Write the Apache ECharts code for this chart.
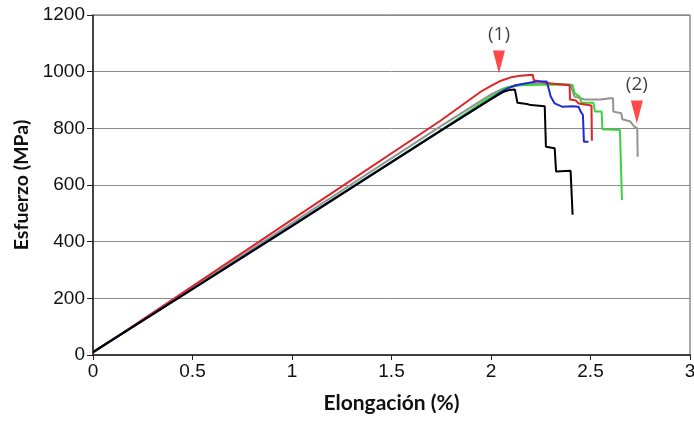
<!DOCTYPE html>
<html>
<head>
<meta charset="utf-8">
<script src="https://cdn.jsdelivr.net/npm/echarts@6/dist/echarts.min.js"></script>
<style>html,body{margin:0;padding:0;background:#fff}#c{width:694px;height:421px}</style>
</head>
<body>
<div id="c"></div>
<script>
const xTicks = [0, 0.5, 1, 1.5, 2, 2.5, 3];
const yTicks = [0, 200, 400, 600, 800, 1000, 1200];

const curvaGris = [[0,10],[1.0,466],[1.744,806],[2.0,920],[2.06,940],[2.12,952],[2.2,957],[2.3,957],[2.4,955],[2.41,930],[2.42,912],[2.47,902],[2.55,902],[2.6,906],[2.613,906],[2.615,859],[2.655,853],[2.66,832],[2.7,824],[2.72,806],[2.735,800],[2.737,700]];
const curvaVerde = [[0,10],[1.0,458],[1.744,792],[2.0,912],[2.08,945],[2.15,952],[2.3,955],[2.41,953],[2.42,924],[2.445,912],[2.455,890],[2.515,890],[2.522,859],[2.556,859],[2.56,797],[2.648,794],[2.658,547]];
const curvaRoja = [[0,8],[1.0,478],[1.744,826],[1.95,930],[2.0,950],[2.05,968],[2.1,980],[2.15,986],[2.21,989],[2.215,970],[2.3,958],[2.395,952],[2.397,902],[2.427,898],[2.44,888],[2.489,882],[2.505,880],[2.507,756]];
const curvaAzul = [[0,10],[1.0,457],[1.744,790],[2.0,904],[2.045,926],[2.08,940],[2.13,953],[2.2,962],[2.23,965],[2.28,965],[2.29,940],[2.3,912],[2.32,888],[2.36,876],[2.41,878],[2.44,876],[2.45,860],[2.462,847],[2.467,753],[2.49,753]];
const curvaNegra = [[0,10],[1.0,455],[1.744,790],[2.0,903],[2.06,928],[2.09,935],[2.12,937],[2.133,890],[2.18,886],[2.2,882],[2.27,878],[2.276,735],[2.32,730],[2.327,648],[2.40,650],[2.41,495]];

const marcas = [[2.04, 1034], [2.733, 858]];
const marcasTexto = ['(1)', '(2)'];

function linea(name, data, color) {
  return { name, type: 'line', data, symbol: 'none', showSymbol: false, animation: false,
    lineStyle: { color, width: 2 }, itemStyle: { color } };
}

const labelFont = '"Liberation Sans", Arial, sans-serif';
const chart = echarts.init(document.getElementById('c'), null, { renderer: 'canvas' });
chart.setOption({
  animation: false,
  backgroundColor: '#fff',
  grid: { left: 93, top: 15, right: 4, bottom: 66, containLabel: false, outerBoundsMode: 'none',
          show: true, borderColor: '#555', borderWidth: 1, backgroundColor: 'transparent' },
  xAxis: {
    type: 'value', min: 0, max: 3, interval: 0.5,
    name: 'Elongación (%)', nameLocation: 'middle', nameGap: 38,
    nameTextStyle: { fontFamily: 'Lato', fontWeight: 'bold', fontSize: 21, color: '#111' },
    axisLine: { show: true, onZero: false, lineStyle: { color: '#222', width: 1.5 } },
    axisTick: { show: true, length: 5, inside: false, lineStyle: { color: '#222' } },
    axisLabel: { fontFamily: labelFont, fontSize: 19, color: '#111', margin: 7,
      formatter: v => String(v) },
    splitLine: { show: false }
  },
  yAxis: {
    type: 'value', min: 0, max: 1200, interval: 200,
    name: 'Esfuerzo (MPa)', nameLocation: 'middle', nameGap: 60, nameRotate: 90,
    nameTextStyle: { fontFamily: 'Lato', fontWeight: 'bold', fontSize: 19.5, color: '#111' },
    axisLine: { show: true, lineStyle: { color: '#222', width: 1.5 } },
    axisTick: { show: true, length: 6, lineStyle: { color: '#222' } },
    axisLabel: { fontFamily: labelFont, fontSize: 19, color: '#111', margin: 8,
      formatter: v => String(v) },
    splitLine: { show: true, lineStyle: { color: '#8a8a8a', width: 1 } }
  },
  series: [
    linea('gris', curvaGris, '#939393'),
    linea('verde', curvaVerde, '#3cd23c'),
    linea('rojo', curvaRoja, '#e02424'),
    linea('azul', curvaAzul, '#1f2ad4'),
    linea('negro', curvaNegra, '#000000'),
    {
      type: 'scatter', animation: false, silent: true,
      symbol: 'path://M0,0 L12,0 L6,22 Z', symbolSize: [12, 23],
      itemStyle: { color: '#ff1a1a' },
      data: marcas.map((p, i) => ({ value: p, label: { formatter: marcasTexto[i] } })),
      label: { show: true, position: 'top', distance: 6, fontFamily: 'Open Sans', fontSize: 19, color: '#111' },
      z: 10
    }
  ]
});
</script>
</body>
</html>
